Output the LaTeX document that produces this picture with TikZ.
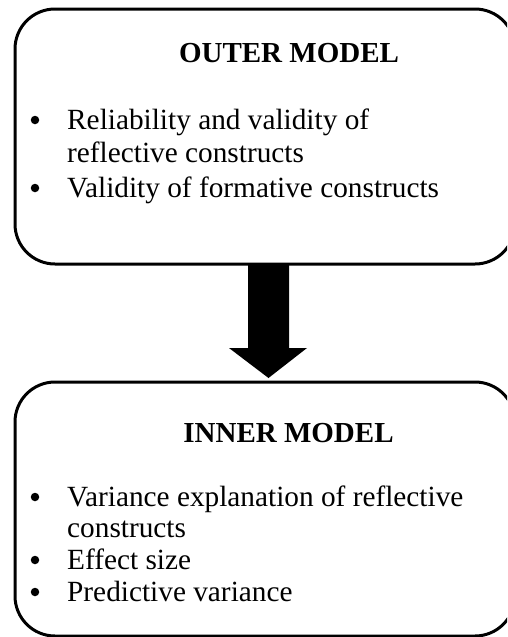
\documentclass[tikz,border=0pt]{standalone}
\usepackage{fontspec}
\setmainfont{Liberation Serif}
\begin{document}
\begin{tikzpicture}[x=1pt,y=-1pt,
  modelbox/.style={draw=black,line width=3pt,rounded corners=40pt,outer sep=0pt,inner sep=0pt},
  bodytext/.style={anchor=base west,inner sep=0pt,font=\fontsize{29.3}{34}\selectfont},
  bulletdot/.style={circle,fill=black,inner sep=0pt,minimum size=8.5pt},
  titletext/.style={anchor=base,inner sep=0pt,font=\fontsize{29}{34}\selectfont\bfseries}]
\useasboundingbox (0,0) rectangle (507,637);
\clip (0,0) rectangle (507,637);
% boxes
\node[modelbox,minimum width=500pt,minimum height=255pt] (outer) at (265,136.5) {};
\node[modelbox,minimum width=500pt,minimum height=254pt] (inner) at (265,509) {};
% arrow between the boxes
\fill[black] (248,264) -- (289,264) -- (289,348) -- (307,348) -- (268.5,378) -- (229,348) -- (248,348) -- cycle;
% outer model text
\node[titletext] (ot) at (289,62) {OUTER MODEL};
\node[bulletdot] (ob1) at (35,120) {};
\node[bodytext] (o1) at (67,129) {Reliability and validity of};
\node[bodytext] (o2) at (67,162) {reflective constructs};
\node[bulletdot] (ob2) at (35,188) {};
\node[bodytext] (o3) at (67,197) {Validity of formative constructs};
% inner model text
\node[titletext] (it) at (288.5,442) {INNER MODEL};
\node[bulletdot] (ib1) at (35,497) {};
\node[bodytext] (i1) at (67,506) {Variance explanation of reflective};
\node[bodytext] (i2) at (67,537) {constructs};
\node[bulletdot] (ib2) at (35,560) {};
\node[bodytext] (i3) at (67,569) {Effect size};
\node[bulletdot] (ib3) at (35,592) {};
\node[bodytext] (i4) at (67,601) {Predictive variance};
\end{tikzpicture}
\end{document}
